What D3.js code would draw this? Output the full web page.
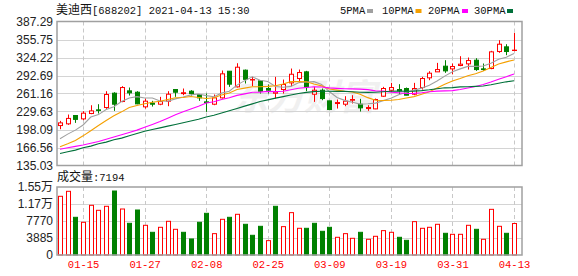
<!DOCTYPE html>
<html><head><meta charset="utf-8">
<script src="https://cdn.jsdelivr.net/npm/d3@7"></script>
<style>body{margin:0;background:#fff;} svg{display:block;}</style>
</head><body><svg id="c" width="578" height="276"></svg>
<script>
const dates = ["01-12","01-13","01-14","01-15","01-18","01-19","01-20","01-21","01-22","01-25","01-26","01-27","01-28","01-29","02-01","02-02","02-03","02-04","02-05","02-08","02-09","02-10","02-18","02-19","02-22","02-23","02-24","02-25","02-26","03-01","03-02","03-03","03-04","03-05","03-08","03-09","03-10","03-11","03-12","03-15","03-16","03-17","03-18","03-19","03-22","03-23","03-24","03-25","03-26","03-29","03-30","03-31","04-01","04-02","04-06","04-07","04-08","04-09","04-12","04-13"];
const open  = [205.0,208.0,222.6,216.7,226.1,232.5,236.6,261.7,247.1,265.8,263.4,237.8,244.2,242.4,247.7,268.1,261.0,265.2,259.4,246.5,242.4,253.5,300.2,272.8,302.0,284.8,283.3,269.9,261.7,268.1,279.8,287.4,299.1,259.9,266.9,248.3,243.6,242.4,249.4,242.4,234.8,234.2,256.4,266.9,268.1,269.9,259.9,271.6,288.6,299.1,309.0,304.3,310.2,313.1,319.5,304.3,304.9,334.7,342.9,336.5];
const high  = [213.2,224.3,222.6,230.2,240.6,242.4,265.2,263.4,274.0,271.6,265.2,252.3,248.3,255.3,265.2,268.1,269.9,267.0,259.4,261.1,259.4,301.4,300.2,314.2,303.1,290.3,284.5,276.9,290.3,285.6,304.9,303.1,300.8,272.8,269.9,248.3,250.6,256.4,258.2,251.8,240.7,252.3,272.8,279.8,277.5,271.6,279.8,290.3,300.2,314.8,319.5,313.7,326.5,324.2,323.0,313.7,335.9,354.5,347.5,367.4];
const low   = [198.6,206.2,209.7,214.4,224.9,226.1,234.2,230.7,245.9,257.6,242.4,234.8,238.3,240.7,238.9,255.3,258.2,257.6,248.3,229.0,240.7,252.3,272.8,271.6,278.6,274.0,261.1,261.1,252.3,261.1,273.9,279.8,265.2,246.5,249.4,231.9,234.8,238.9,243.6,229.6,230.7,233.7,255.3,264.0,259.9,258.2,258.2,268.1,284.5,299.1,297.3,294.9,309.0,303.1,300.8,300.8,303.7,332.4,328.3,335.3];
const close = [209.7,217.5,215.8,226.7,230.7,231.5,259.4,242.4,271.6,262.3,243.0,247.7,242.4,247.0,259.9,263.4,262.5,261.1,253.5,245.3,253.5,295.6,277.5,307.2,286.0,285.6,265.2,266.9,264.0,276.9,294.9,297.9,272.8,266.9,252.3,233.1,245.3,247.7,250.6,236.0,236.6,250.6,269.9,271.6,265.8,258.2,269.9,287.4,296.7,303.1,300.8,308.4,312.5,318.9,303.1,303.1,334.1,347.5,334.7,337.1];
const volume = [13413,14555,8614,7472,11356,10214,11128,14624,10511,7243,10283,6786,5187,6329,7700,5872,5187,3664,7472,9529,4882,8157,8614,9300,7015,4502,6557,3283,11128,6481,9681,6101,6101,7243,5415,6329,4045,4882,3816,5187,3588,4274,5568,5187,4045,3359,7624,6101,6329,7015,4959,4730,4730,6786,5872,3588,10435,6557,4959,7194];
const ma5  = [182,190,197,206,219.9,224.2,233.0,238.1,247.1,253.4,255.7,253.4,253.4,248.1,247.6,251.7,254.9,258.7,260.4,257.5,255.5,261.8,265.1,275.8,283.7,290.3,284.3,282.1,273.5,272.0,273.6,280.1,281.3,281.9,277.0,264.6,254.1,249.1,245.8,242.5,243.2,244.3,248.7,252.9,258.9,263.2,267.1,270.6,275.6,283.1,291.6,299.3,304.3,308.7,308.7,309.2,314.3,321.3,324.5,331.3];
const ma10 = [168,173,179,187,196,205,214,222,229,236.7,240.0,243.2,245.8,247.6,250.5,253.7,254.2,256.0,254.2,252.5,253.6,258.4,261.9,268.1,270.6,272.9,273.0,273.6,274.7,277.8,282.0,282.2,281.7,277.7,274.5,269.1,267.1,265.2,263.8,259.8,253.9,249.2,248.9,249.4,250.7,253.2,255.7,259.7,264.3,271.0,277.4,283.2,287.4,292.2,295.9,300.4,306.8,312.8,316.6,320.0];
const ma20 = [163.6,166,168.5,171,174,177,181,185,189,193,197,202,207,212,218,224,229,234,239,244.6,246.8,250.8,253.8,257.9,260.5,263.3,263.6,264.8,264.4,265.2,267.8,270.3,271.8,272.9,272.5,271.0,270.1,269.4,269.3,268.8,267.9,265.7,265.3,263.5,262.6,261.2,261.4,262.4,264.1,265.4,265.7,266.2,268.2,270.8,273.3,276.8,281.3,286.2,290.4,295.5];
const ma30 = [156,159,162,166,169,173,176,180,183,187,191,195,198,201,204,207,210,213,216,220,223,227,231,235,239,243,247,250,253,255.7,258.5,261.3,263.1,264.5,265.2,265.2,264.8,264.9,264.2,263.4,263.2,263.3,264.2,265.1,265.3,265.1,265.3,266.2,267.6,269.5,271.1,271.5,272.7,273.1,273.7,274.2,276.5,279.2,281.6,283.6];
const priceTicks = [135.03,166.56,198.09,229.63,261.16,292.69,324.22,355.75,387.29];
const volTicks = [0,3885,7770,11655,15540];
const xLabels = ["01-15","01-27","02-08","02-25","03-09","03-19","03-31","04-13"];
const maNames = ["5PMA","10PMA","20PMA","30PMA"];
const title = ["美迪西","[688202] 2021-04-13 15:30"];

const RED="#ff0000", GREEN="#008000";
const maColors=["#a0a0a0","#f5a000","#ff00ff","#00703a"];
const L=57,R=522,PT=21.5,PB=165.5,VT=187,VB=255;
const svg=d3.select("#c");

const x=d3.scalePoint().domain(dates).range([60,514]);
const y=d3.scaleLinear().domain([priceTicks[0],priceTicks[priceTicks.length-1]]).range([PB,PT]);
const yv=d3.scaleLinear().domain([0,volTicks[volTicks.length-1]]).range([VB,VT]);
const px=d=>Math.round(x(d));

// watermark
svg.append("text").attr("x",232).attr("y",110).attr("font-family","Noto Sans CJK SC").attr("font-weight","bold")
  .attr("font-size",36).attr("fill","#f0f0f0").attr("font-style","italic").text("东方财富");

// grids
const g=svg.append("g");
g.selectAll(".hg").data(priceTicks.slice(1,-1)).join("line")
  .attr("x1",L).attr("x2",R).attr("y1",d=>Math.round(y(d))+0.5).attr("y2",d=>Math.round(y(d))+0.5)
  .attr("stroke","#d4d4d4");
g.selectAll(".vhg").data(volTicks.slice(1,-1)).join("line")
  .attr("x1",L).attr("x2",R).attr("y1",d=>Math.round(yv(d))+0.5).attr("y2",d=>Math.round(yv(d))+0.5)
  .attr("stroke","#d4d4d4");
[[PT,PB],[VT,VB]].forEach(([a,b])=>{
  g.append("g").selectAll("line").data(xLabels).join("line")
   .attr("x1",d=>px(d)+0.5).attr("x2",d=>px(d)+0.5).attr("y1",a).attr("y2",b)
   .attr("stroke","#c8c8c8").attr("stroke-dasharray","4,3");
});

// y axes
const yAxis=d3.axisLeft(y).tickValues(priceTicks).tickFormat(d3.format(".2f")).tickSize(0).tickPadding(4);
const ya=svg.append("g").attr("transform",`translate(${L},0)`).call(yAxis);
ya.select(".domain").remove();
ya.selectAll("text").attr("font-family","Liberation Sans, Arial").attr("font-size",12).attr("fill","#222");
const fmtV=v=>v>=10000?(v/10000).toFixed(2)+"万":String(v);
const vAxis=d3.axisLeft(yv).tickValues(volTicks).tickFormat(fmtV).tickSize(0).tickPadding(4);
const va=svg.append("g").attr("transform",`translate(${L},0)`).call(vAxis);
va.select(".domain").remove();
va.selectAll("text").attr("font-family","Liberation Sans, Noto Sans CJK SC").attr("font-size",12).attr("fill","#222");

// x axis
const xa=svg.append("g").attr("transform",`translate(0,${VB})`).call(d3.axisBottom(x).tickValues(xLabels).tickSize(0).tickPadding(6));
xa.select(".domain").remove();
xa.selectAll("text").attr("font-family","Liberation Mono, DejaVu Sans Mono").attr("font-size",10.5).attr("fill",RED);

// candles
const idx=d3.range(dates.length);
const cg=svg.append("g");
cg.selectAll("line").data(idx).join("line")
  .attr("x1",i=>px(dates[i])+0.5).attr("x2",i=>px(dates[i])+0.5)
  .attr("y1",i=>y(high[i])).attr("y2",i=>y(low[i]))
  .attr("stroke",i=>close[i]>=open[i]?RED:GREEN);
cg.selectAll("rect").data(idx).join("rect")
  .attr("x",i=>px(dates[i])-1.5).attr("width",4)
  .attr("y",i=>y(Math.max(open[i],close[i])))
  .attr("height",i=>Math.max(0.01,Math.abs(y(open[i])-y(close[i]))))
  .attr("fill",i=>close[i]>=open[i]?"#fff":GREEN)
  .attr("stroke",i=>close[i]>=open[i]?RED:GREEN);

// MA lines
[ma5,ma10,ma20,ma30].forEach((arr,k)=>{
  svg.append("path").datum(idx).attr("fill","none").attr("stroke",maColors[k]).attr("stroke-width",1.1)
    .attr("d",d3.line().x(i=>x(dates[i])).y(i=>y(arr[i])));
});

// volume bars
const up=i=>i===0?close[i]>=open[i]:close[i]>=close[i-1];
svg.append("g").selectAll("rect").data(idx).join("rect")
  .attr("x",i=>px(dates[i])-1.5).attr("width",4)
  .attr("y",i=>yv(volume[i])).attr("height",i=>VB-yv(volume[i]))
  .attr("fill",i=>up(i)?"#fff":GREEN).attr("stroke",i=>up(i)?RED:GREEN);

// frames
[[PT,PB],[VT,VB]].forEach(([a,b])=>{
  svg.append("rect").attr("x",L).attr("y",a).attr("width",R-L).attr("height",b-a)
    .attr("fill","none").attr("stroke","#a0a0a0").attr("stroke-width",1.5);
});

// title
const t=svg.append("text").attr("x",56).attr("y",14).attr("fill","#111");
t.append("tspan").attr("font-family","Noto Sans CJK SC").attr("font-size",12).text(title[0]);
t.append("tspan").attr("font-family","Liberation Mono, DejaVu Sans Mono").attr("font-size",10.5).text(title[1]);

// legend
const lx=[340,382,428,474], sqx=[367,415.5,462,507];
maNames.forEach((n,k)=>{
  svg.append("text").attr("x",lx[k]).attr("y",14).attr("font-family","Liberation Mono, DejaVu Sans Mono")
    .attr("font-size",10.5).attr("fill","#111").text(n);
  svg.append("rect").attr("x",sqx[k]).attr("y",9).attr("width",6).attr("height",4).attr("fill",maColors[k]);
});

// volume label
const vt=svg.append("text").attr("x",57).attr("y",181).attr("fill","#111");
vt.append("tspan").attr("font-family","Noto Sans CJK SC").attr("font-size",12).text("成交量");
vt.append("tspan").attr("font-family","Liberation Mono, DejaVu Sans Mono").attr("font-size",10.5).text(":"+volume[volume.length-1]);
</script></body></html>
